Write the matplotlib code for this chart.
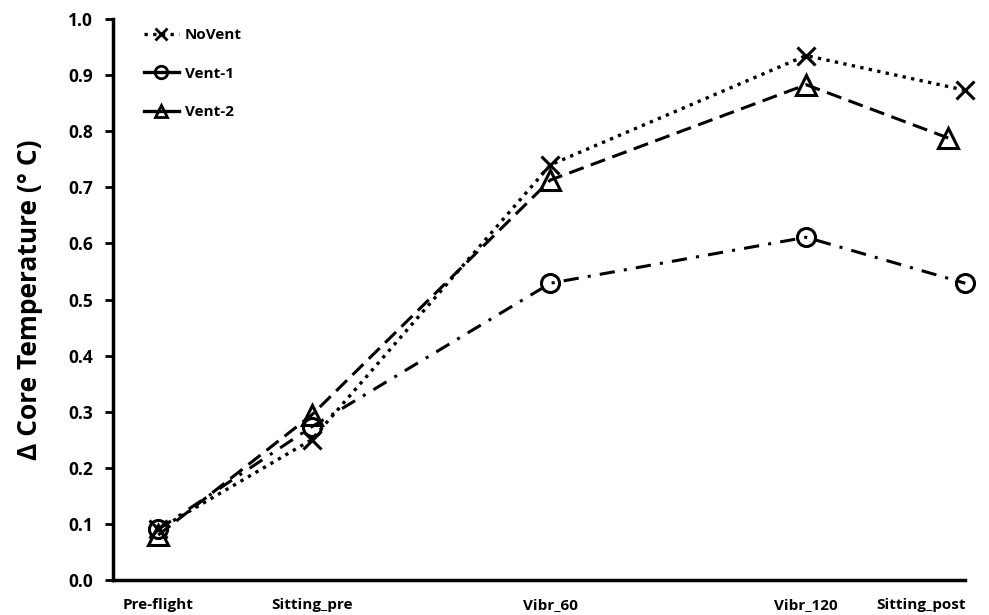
import matplotlib.pyplot as plt
from matplotlib.lines import Line2D

# stage labels and their positions on the time axis (min)
stages = ['Pre-flight', 'Sitting_pre', 'Vibr_60', 'Vibr_120', 'Sitting_post']
x_time = [8, 35, 77, 122, 150]
x_time_vent2 = [8, 35, 77, 122, 147]

# change in core temperature (deg C)
novent = [0.09, 0.25, 0.74, 0.935, 0.873]
vent1 = [0.09, 0.273, 0.529, 0.611, 0.529]
vent2 = [0.08, 0.294, 0.713, 0.883, 0.788]

plt.rcParams['font.family'] = ['Open Sans', 'DejaVu Sans']

fig = plt.figure(figsize=(9.89, 6.15), dpi=100)
ax = fig.add_axes([0.114, 0.057, 0.862, 0.912])

ax.plot(x_time, novent, color='black', linestyle=(0, (1, 1.6)), linewidth=2.4,
        marker='x', markersize=13, markeredgewidth=2.2, clip_on=False)
ax.plot(x_time, vent1, color='black', linestyle=(0, (5, 3, 1, 3)), linewidth=2.2,
        marker='o', markersize=13, markeredgewidth=2.2, fillstyle='none', clip_on=False)
ax.plot(x_time_vent2, vent2, color='black', linestyle=(0, (5, 2.5)), linewidth=2.2,
        marker='^', markersize=14, markeredgewidth=2.2, fillstyle='none', clip_on=False)

ax.set_xlim(0, 150)
ax.set_ylim(0, 1.0)
ax.set_yticks([i / 10 for i in range(11)])
ax.set_yticklabels(['%.1f' % (i / 10) for i in range(11)], fontsize=12.5, fontweight='bold')
ax.set_xticks(x_time)
ax.set_xticklabels(stages, fontsize=11, fontweight='bold')
ax.get_xticklabels()[-1].set_horizontalalignment('right')
ax.tick_params(axis='x', length=0, pad=13)
ax.tick_params(axis='y', direction='out', length=6, width=2, pad=8)

for side in ['top', 'right']:
    ax.spines[side].set_visible(False)
for side in ['left', 'bottom']:
    ax.spines[side].set_linewidth(2.5)

ax.set_ylabel('\u0394 Core Temperature (\u00b0 C)', fontsize=19, fontweight='bold', labelpad=18)

handles = [
    Line2D([], [], color='black', linestyle=(0, (1, 1.6)), linewidth=2.4,
           marker='x', markersize=9, markeredgewidth=2),
    Line2D([], [], color='black', linestyle='-', linewidth=2.4,
           marker='o', markersize=9, markeredgewidth=2, fillstyle='none'),
    Line2D([], [], color='black', linestyle='-', linewidth=2.4,
           marker='^', markersize=9, markeredgewidth=2, fillstyle='none'),
]
ax.legend(handles, ['NoVent', 'Vent-1', 'Vent-2'], loc='upper left', frameon=False,
          handlelength=2.3, handletextpad=0.4, labelspacing=1.6,
          bbox_to_anchor=(0.02, 1.008), prop={'weight': 'bold', 'size': 11})

fig.savefig('out.png', dpi=100)
